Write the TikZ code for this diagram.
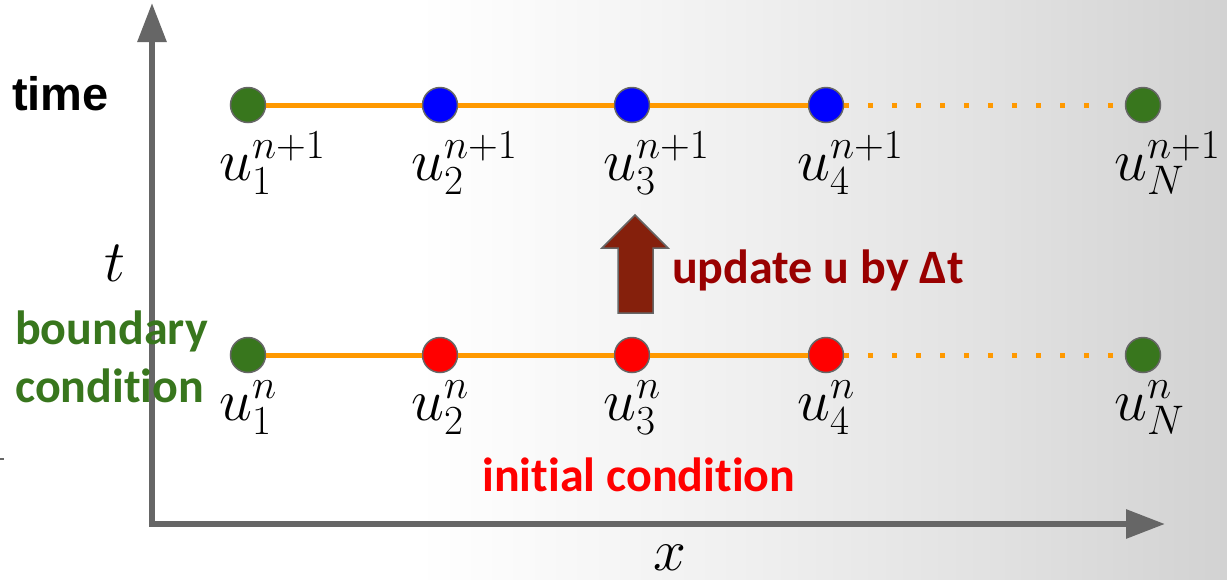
\RequirePackage{fix-cm}
\documentclass[tikz,border=0pt]{standalone}
\usepackage{fontspec}
\usetikzlibrary{arrows.meta}
\newfontfamily\calibri{Carlito}[Ligatures=NoCommon]
\newfontfamily\arial{Liberation Sans}
\definecolor{axisgray}{HTML}{666666}
\definecolor{bcgreen}{HTML}{38761D}
\definecolor{gridorange}{HTML}{FF9900}
\definecolor{arrowred}{HTML}{85200C}
\definecolor{updred}{HTML}{990000}
\definecolor{bgone}{HTML}{F0F0F0}
\definecolor{bgtwo}{HTML}{E2E2E2}
\definecolor{bgend}{HTML}{D2D2D2}
% the path box maps onto 25bp..75bp of the shading
\pgfdeclarehorizontalshading{bgshade}{100bp}{color(0bp)=(white); color(42bp)=(white); color(55bp)=(bgone); color(65bp)=(bgtwo); color(75bp)=(bgend); color(100bp)=(bgend)}
\newcommand\bigmath{\fontsize{59}{60}\selectfont}

\begin{document}
\begin{tikzpicture}[x=1pt,y=-1pt,>={Triangle[length=39pt,width=28pt]},
  pt/.style={circle,draw=axisgray,line width=1.5pt,minimum size=35pt,inner sep=0pt},
  ulab/.style={anchor=base west,inner sep=0pt,font=\bigmath},
  gridline/.style={gridorange,line width=5pt},
  sans/.style={inner sep=0pt,font=\calibri\bfseries\fontsize{48}{58}\selectfont}]
\shade[shading=bgshade] (0,0) rectangle (1227,579);
\useasboundingbox (0,0) rectangle (1227,579);
% axes
\coordinate (o) at (152,524);
\coordinate (ytip) at (152,3);
\coordinate (xtip) at (1165,524);
\draw[<->,line width=6pt,axisgray] (ytip)--(o)--(xtip);
\draw[axisgray,line width=1.5pt] (0,459)--(4,459);
\node[font=\bigmath,inner sep=0pt] (tlab) at (115,263) {$t$};
\node[font=\bigmath,inner sep=0pt] (xlab) at (670,558) {$x$};
% time levels n+1 and n
\foreach \k/\x/\c in {1/248/bcgreen,2/440/blue,3/632/blue,4/826/blue,N/1143/bcgreen}{
  \node[pt,fill=\c] (t\k) at (\x,105) {};
  \node[ulab] (tl\k) at (\x-29,180) {$u_{\k}^{n+1}$};
}
\foreach \k/\x/\c in {1/248/bcgreen,2/440/red,3/632/red,4/826/red,N/1143/bcgreen}{
  \node[pt,fill=\c] (b\k) at (\x,355) {};
  \node[ulab] (bl\k) at (\x-29,420) {$u_{\k}^{n}$};
}
\draw[gridline] (t1)--(t2) (t2)--(t3) (t3)--(t4);
\draw[gridline,dash pattern=on 5pt off 19pt] (t4)--(tN);
\draw[gridline] (b1)--(b2) (b2)--(b3) (b3)--(b4);
\draw[gridline,dash pattern=on 5pt off 19pt] (b4)--(bN);
% step arrow
\draw[fill=arrowred,draw=axisgray,line width=1.5pt] (618,313)--(618,248)--(602,248)--(635,215)--(668,248)--(653,248)--(653,313)--cycle;
\node[sans,updred,anchor=base west] (upd) at (672,283) {update u by Δt};
% texts
\node[anchor=base west,inner sep=0pt,font=\arial\bfseries\fontsize{47}{50}\selectfont] (timelab) at (12,110) {time};
\node[sans,bcgreen,align=left,anchor=north west] (bc) at (15,311) {boundary\\condition};
\node[sans,red,anchor=base west] (ic) at (482,491) {initial condition};
\end{tikzpicture}
\end{document}
